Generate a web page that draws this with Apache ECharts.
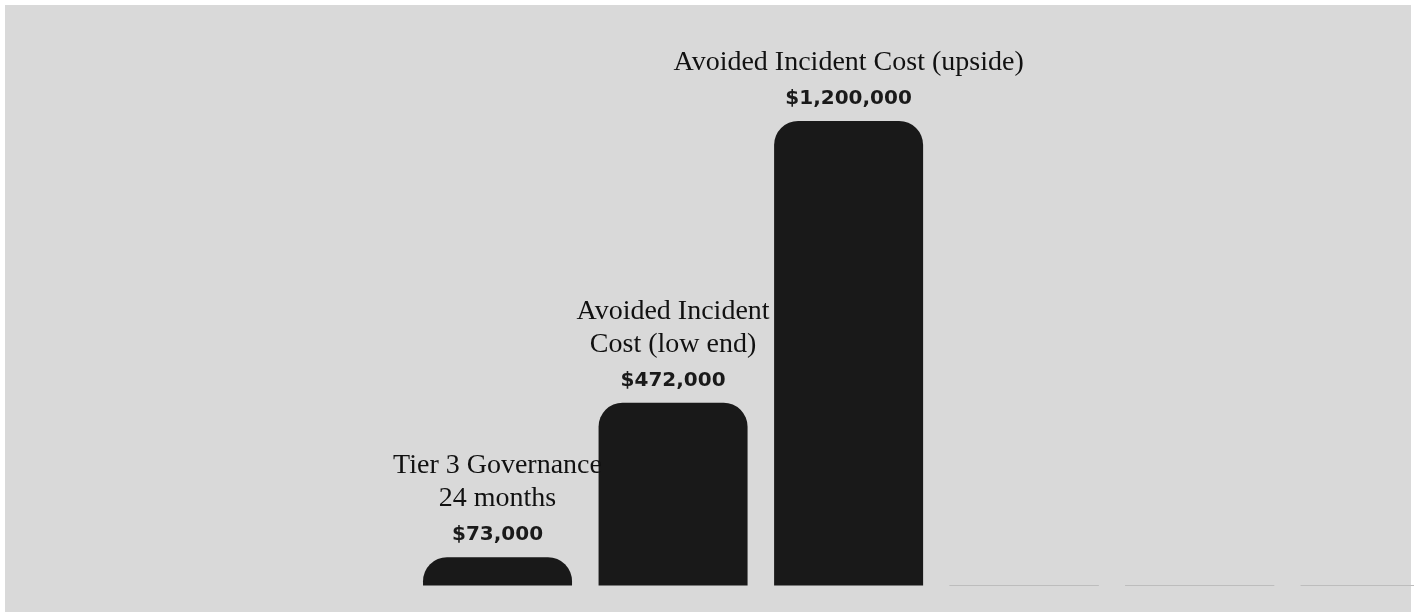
<!DOCTYPE html>
<html>
<head>
<meta charset="utf-8">
<script src="https://cdn.jsdelivr.net/npm/echarts@6/dist/echarts.min.js"></script>
<style>
  html, body { margin: 0; padding: 0; background: #ffffff; overflow: hidden; width: 1414px; height: 612px; }
  #chart { width: 1463px; height: 612px; }
</style>
</head>
<body>
<div id="chart"></div>
<script>
const categories = [
  'Tier 3 Governance\n24 months',
  'Avoided Incident\nCost (low end)',
  'Avoided Incident Cost (upside)',
  '',
  '',
  ''
];
const values = [73000, 472000, 1200000, 0, 0, 0];

const chart = echarts.init(document.getElementById('chart'), null, { renderer: 'canvas' });

function fmt(v) { return '$' + v.toLocaleString('en-US'); }

const barData = values.map(function (v) {
  if (v === 0) {
    return {
      value: v,
      itemStyle: { color: 'rgba(0,0,0,0)', borderColor: '#bdbdbd', borderWidth: 1, borderRadius: 0 },
      label: { show: false }
    };
  }
  return { value: v };
});

chart.setOption({
  animation: false,
  backgroundColor: 'transparent',
  graphic: [{
    type: 'rect',
    z: -10,
    shape: { x: 5, y: 5, width: 1406, height: 610 },
    style: { fill: '#d9d9d9' }
  }],
  grid: { left: 409.75, right: 0, top: 121, height: 464.5, containLabel: false },
  xAxis: {
    type: 'category',
    data: categories,
    show: false
  },
  yAxis: {
    type: 'value',
    min: 0,
    max: 1200000,
    show: false
  },
  series: [{
    type: 'bar',
    data: barData,
    barWidth: 149,
    z: 2,
    itemStyle: { color: '#191919', borderRadius: [24, 24, 0, 0] },
    label: {
      show: true,
      position: 'top',
      distance: 2,
      formatter: function (p) {
        const lines = categories[p.dataIndex].split('\n').map(function (l) { return '{name|' + l + '}'; });
        return lines.join('\n') + '\n{val|' + fmt(values[p.dataIndex]) + '}';
      },
      rich: {
        name: { fontFamily: 'Liberation Serif', fontSize: 28, lineHeight: 33, color: '#111111', align: 'center' },
        val: { fontFamily: 'DejaVu Sans', fontSize: 20, fontWeight: 'bold', lineHeight: 40, color: '#1a1a1a', align: 'center' }
      }
    },
    labelLayout: { hideOverlap: false }
  }]
});
</script>
</body>
</html>
